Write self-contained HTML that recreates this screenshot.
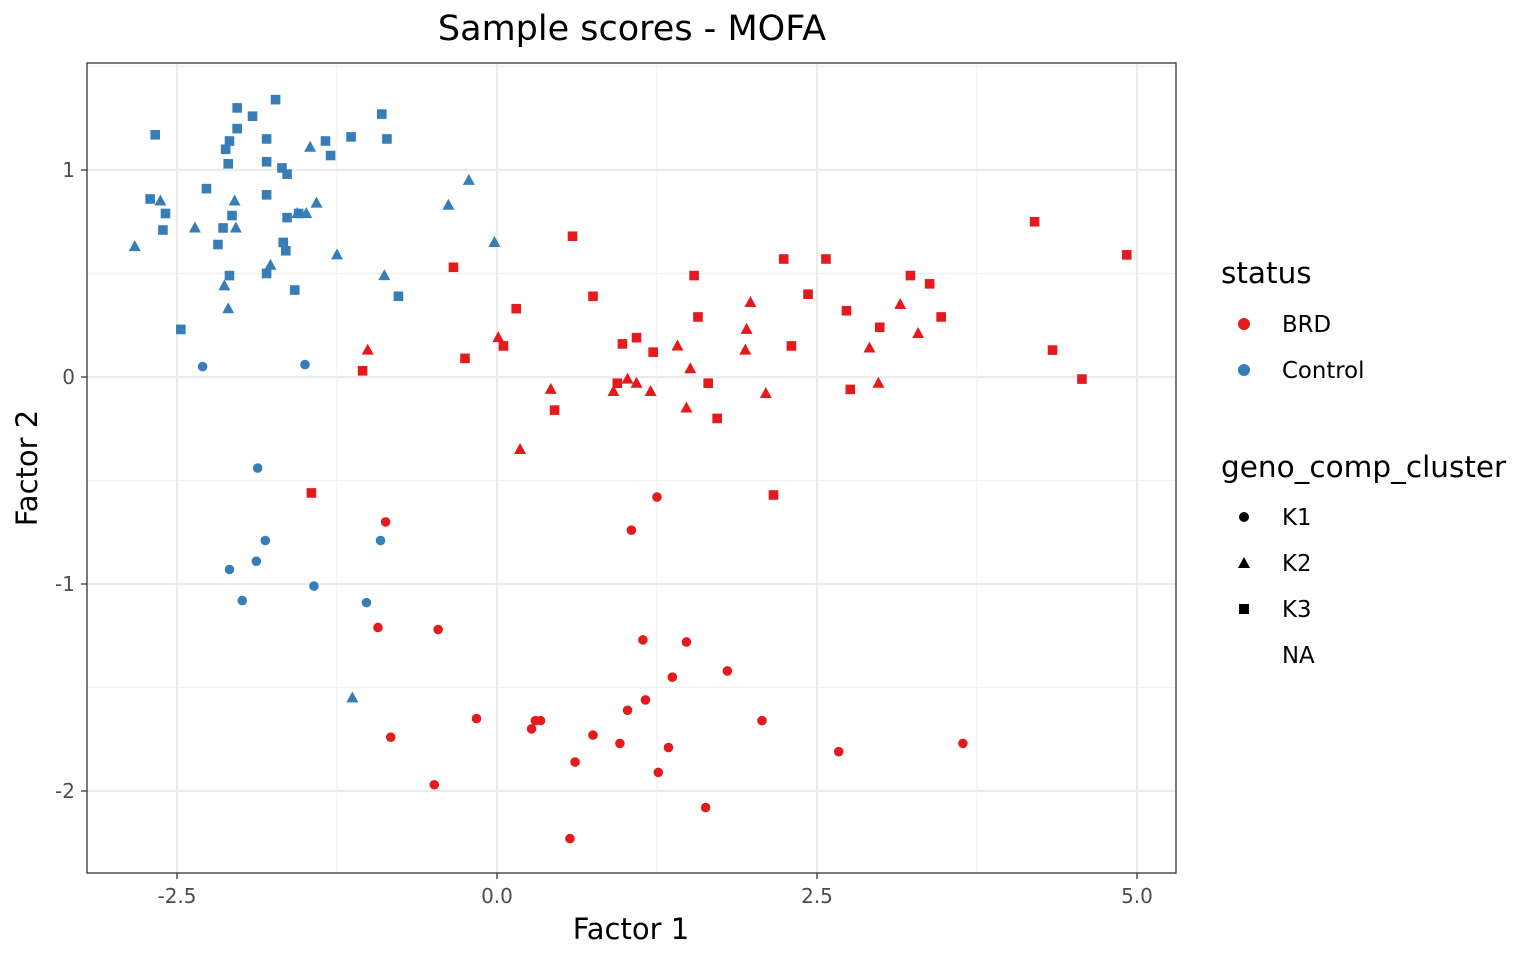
<!DOCTYPE html>
<html><head><meta charset="utf-8"><style>
body{margin:0;background:#fff;}
svg{display:block;font-family:"DejaVu Sans","Liberation Sans",sans-serif;}
</style></head><body>
<svg id="chart" width="1536" height="960">
<rect width="1536" height="960" fill="#fff"/>
<g id="grid"></g>
<g id="pts"></g>
<rect x="87" y="63" width="1089" height="810" fill="none" stroke="#333" stroke-width="1.3"/>
<g id="ticks"></g>
<text x="632" y="40" font-size="35" text-anchor="middle">Sample scores - MOFA</text>
<text x="631" y="939" font-size="29" text-anchor="middle">Factor 1</text>
<text x="37" y="468" font-size="29" text-anchor="middle" transform="rotate(-90 37 468)">Factor 2</text>
<g>
<text x="1221" y="283" font-size="29.5">status</text>
<circle cx="1244" cy="324" r="6" fill="#E41A1C"/>
<text x="1282" y="332" font-size="22.8">BRD</text>
<circle cx="1244" cy="370" r="6" fill="#377EB8"/>
<text x="1282" y="378" font-size="22.8">Control</text>
</g>
<g>
<text x="1221" y="477" font-size="29.5">geno_comp_cluster</text>
<circle cx="1244" cy="517" r="5" fill="#000"/>
<text x="1282" y="525" font-size="22.8">K1</text>
<polygon points="1244,557 1250,568 1238,568" fill="#000"/>
<text x="1282" y="571" font-size="22.8">K2</text>
<rect x="1239" y="604" width="10" height="10" fill="#000"/>
<text x="1282" y="617" font-size="22.8">K3</text>
<text x="1282" y="663" font-size="22.8">NA</text>
</g>
</svg>
<script>
const xTicks=[-2.5,0,2.5,5];
const xTickLabels=["-2.5","0.0","2.5","5.0"];
const yTicks=[-2,-1,0,1];
const yTickLabels=["-2","-1","0","1"];
const xMinor=[-1.25,1.25,3.75];
const yMinor=[-1.5,-0.5,0.5,1.5];
// [x, y]
const controlK3=[[-2.67,1.17],[-2.03,1.30],[-1.73,1.34],[-1.91,1.26],[-2.03,1.20],[-2.09,1.14],[-2.12,1.10],[-2.10,1.03],[-1.80,1.15],[-1.80,1.04],[-1.68,1.01],[-1.64,0.98],[-1.34,1.14],[-1.14,1.16],[-1.30,1.07],[-0.90,1.27],[-0.86,1.15],[-2.71,0.86],[-2.59,0.79],[-2.61,0.71],[-2.27,0.91],[-2.07,0.78],[-2.14,0.72],[-1.80,0.88],[-1.64,0.77],[-1.55,0.79],[-2.18,0.64],[-1.67,0.65],[-1.65,0.61],[-2.09,0.49],[-1.80,0.50],[-1.58,0.42],[-0.77,0.39],[-2.47,0.23]];
const controlK2=[[-2.83,0.63],[-2.63,0.85],[-2.36,0.72],[-2.05,0.85],[-2.04,0.72],[-2.13,0.44],[-2.10,0.33],[-1.77,0.54],[-1.56,0.79],[-1.49,0.79],[-1.46,1.11],[-1.41,0.84],[-1.25,0.59],[-0.88,0.49],[-0.38,0.83],[-0.22,0.95],[-0.02,0.65],[-1.13,-1.55]];
const controlK1=[[-2.30,0.05],[-1.50,0.06],[-1.87,-0.44],[-1.81,-0.79],[-2.09,-0.93],[-1.88,-0.89],[-1.99,-1.08],[-1.43,-1.01],[-0.91,-0.79],[-1.02,-1.09]];
const brdK3=[[4.20,0.75],[4.92,0.59],[0.59,0.68],[-0.34,0.53],[0.75,0.39],[1.54,0.49],[2.24,0.57],[2.57,0.57],[2.43,0.40],[3.23,0.49],[3.38,0.45],[2.73,0.32],[2.99,0.24],[3.47,0.29],[4.34,0.13],[4.57,-0.01],[0.15,0.33],[1.57,0.29],[1.09,0.19],[0.98,0.16],[1.22,0.12],[2.30,0.15],[0.05,0.15],[-0.25,0.09],[-1.05,0.03],[0.94,-0.03],[1.65,-0.03],[2.76,-0.06],[0.45,-0.16],[1.72,-0.20],[2.16,-0.57],[-1.45,-0.56]];
const brdK2=[[-1.01,0.13],[0.01,0.19],[0.18,-0.35],[0.42,-0.06],[0.91,-0.07],[1.02,-0.01],[1.09,-0.03],[1.20,-0.07],[1.41,0.15],[1.51,0.04],[1.48,-0.15],[1.98,0.36],[1.95,0.23],[1.94,0.13],[2.10,-0.08],[2.91,0.14],[2.98,-0.03],[3.15,0.35],[3.29,0.21]];
const brdK1=[[-0.87,-0.70],[1.25,-0.58],[1.05,-0.74],[-0.93,-1.21],[-0.46,-1.22],[1.14,-1.27],[1.48,-1.28],[1.80,-1.42],[1.37,-1.45],[1.16,-1.56],[1.02,-1.61],[-0.16,-1.65],[0.30,-1.66],[0.34,-1.66],[2.07,-1.66],[0.27,-1.70],[0.75,-1.73],[-0.83,-1.74],[0.96,-1.77],[1.34,-1.79],[3.64,-1.77],[2.67,-1.81],[0.61,-1.86],[1.26,-1.91],[-0.49,-1.97],[1.63,-2.08],[0.57,-2.23]];

const NS="http://www.w3.org/2000/svg";
const L=87,T=63,R=1176,B=873;
const sx=v=>497+v*128;
const sy=v=>377-v*207;
function mk(tag,attrs,parent){const e=document.createElementNS(NS,tag);for(const k in attrs)e.setAttribute(k,attrs[k]);parent.appendChild(e);return e;}
const grid=document.getElementById('grid'),ticks=document.getElementById('ticks'),pts=document.getElementById('pts');
xMinor.forEach(v=>{const e=mk('line',{x1:sx(v),x2:sx(v),y1:T,y2:B,stroke:'#f0f0f0','stroke-width':1.2},grid);

});
yMinor.forEach(v=>{const e=mk('line',{x1:L,x2:R,y1:sy(v),y2:sy(v),stroke:'#f0f0f0','stroke-width':1.2},grid);

});
xTicks.forEach((v,i)=>{const e=mk('line',{x1:sx(v),x2:sx(v),y1:T,y2:B,stroke:'#ebebeb','stroke-width':2.2},grid);


const t=mk('line',{x1:sx(v),x2:sx(v),y1:B,y2:B+6,stroke:'#333','stroke-width':1.3},ticks);


const tx=mk('text',{x:sx(v),y:B+30,'font-size':20,'text-anchor':'middle',fill:'#4d4d4d'},ticks);tx.textContent=xTickLabels[i];

});
yTicks.forEach((v,i)=>{const e=mk('line',{x1:L,x2:R,y1:sy(v),y2:sy(v),stroke:'#ebebeb','stroke-width':2.2},grid);


const t=mk('line',{x1:L-6,x2:L,y1:sy(v),y2:sy(v),stroke:'#333','stroke-width':1.3},ticks);


const tx=mk('text',{x:L-12,y:sy(v)+7,'font-size':20,'text-anchor':'end',fill:'#4d4d4d'},ticks);tx.textContent=yTickLabels[i];

});
function draw(arr,shape,color,name){arr.forEach(d=>{const x=sx(d[0]),y=sy(d[1]);let e;
if(shape==='c')e=mk('circle',{cx:x,cy:y,r:4.8,fill:color},pts);
else if(shape==='t')e=mk('polygon',{points:`${x},${y-6.5} ${x+6},${y+4.5} ${x-6},${y+4.5}`,fill:color},pts);
else e=mk('rect',{x:x-4.8,y:y-4.8,width:9.6,height:9.6,fill:color},pts);

});}
draw(controlK3,'s','#377EB8','point-control-k3');
draw(controlK2,'t','#377EB8','point-control-k2');
draw(controlK1,'c','#377EB8','point-control-k1');
draw(brdK3,'s','#E41A1C','point-brd-k3');
draw(brdK2,'t','#E41A1C','point-brd-k2');
draw(brdK1,'c','#E41A1C','point-brd-k1');
</script>
</body></html>
